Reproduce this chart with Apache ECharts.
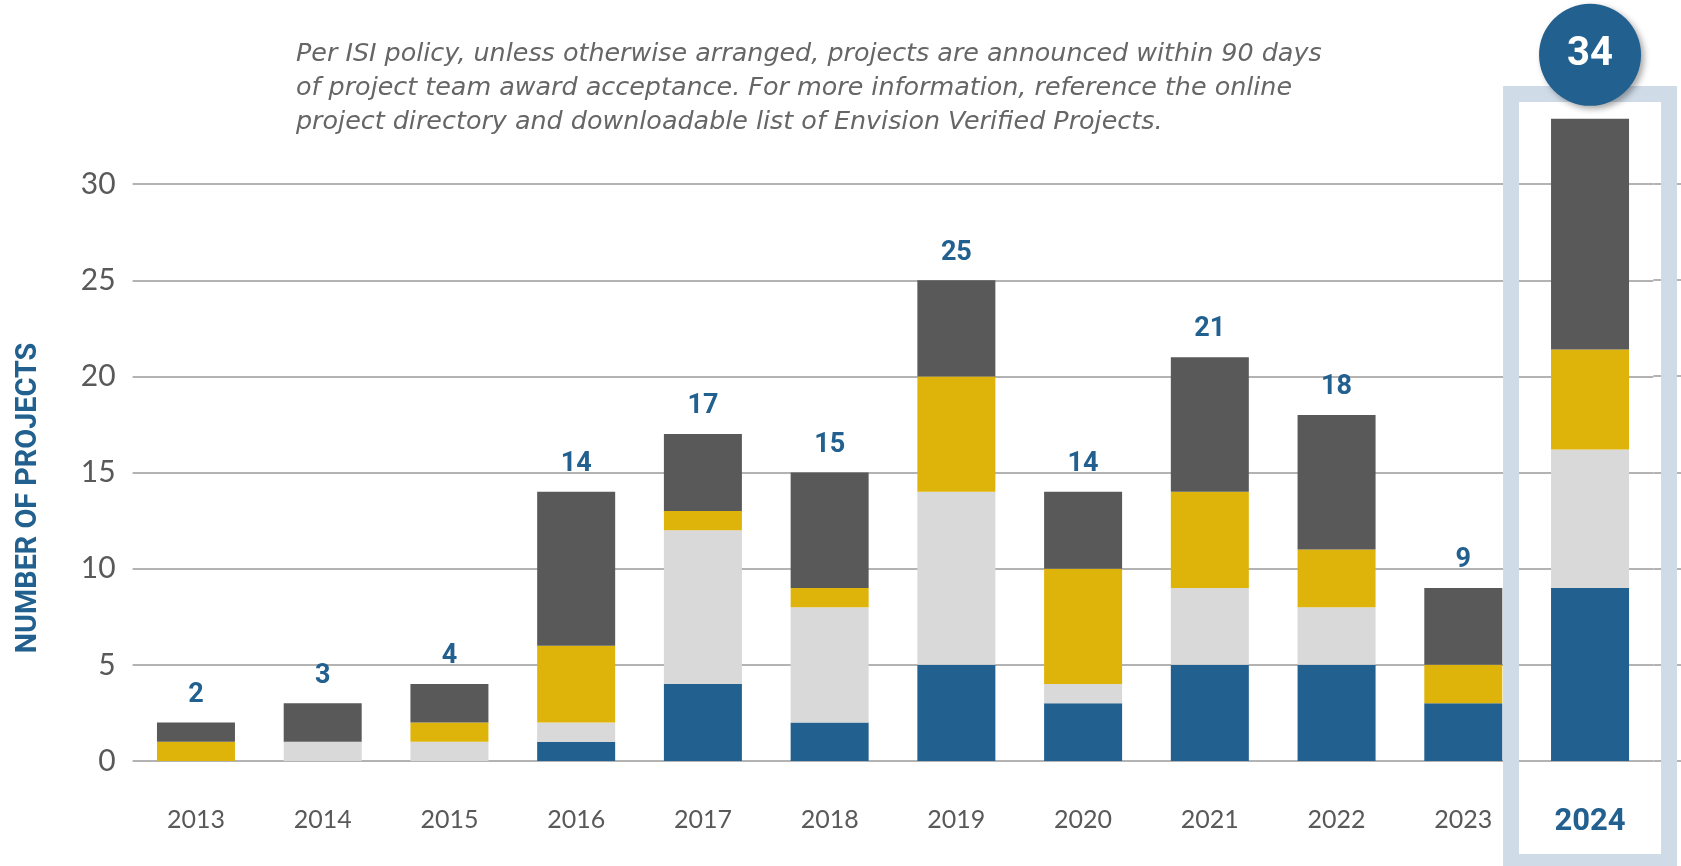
<!DOCTYPE html>
<html lang="en">
<head>
    <meta charset="UTF-8">
    <title>Envision Verified Projects by Year</title>
    <style>
        html, body { margin: 0; padding: 0; background: #fff; }
        #container { width: 1681px; height: 866px; }
    </style>
</head>
<body>
    <div id="container"></div>
    <script src="https://cdn.jsdelivr.net/npm/echarts@6/dist/echarts.min.js"></script>
    <script>
        // values
        var years = ['2013', '2014', '2015', '2016', '2017', '2018', '2019', '2020', '2021', '2022', '2023', '2024'];
        var blueVals = [0, 0, 0, 1, 4, 2, 5, 3, 5, 5, 3, 9];
        var lightVals = [0, 1, 1, 1, 8, 6, 9, 1, 4, 3, 0, 7.2];
        var yellowVals = [1, 0, 1, 4, 1, 1, 6, 6, 5, 3, 2, 5.2];
        var darkVals = [1, 2, 2, 8, 4, 6, 5, 4, 7, 7, 4, 12];
        var totals = [2, 3, 4, 14, 17, 15, 25, 14, 21, 18, 9, 34];
        var yTicks = [0, 5, 10, 15, 20, 25, 30];

        var note = 'Per ISI policy, unless otherwise arranged, projects are announced within 90 days\n' +
            'of project team award acceptance. For more information, reference the online\n' +
            'project directory and downloadable list of Envision Verified Projects.';

        var BLUE = '#22608f';
        var last = years.length - 1;

        var myChart = echarts.init(document.getElementById('container'));

        function seg(name, vals, color) {
            return {
                name: name,
                type: 'bar',
                stack: 'total',
                barWidth: 78,
                data: vals,
                itemStyle: { color: color },
                z: 3
            };
        }

        // top segment carries the total label, the last year gets the round badge
        var darkData = darkVals.map(function (v, i) {
            if (i === last) {
                return {
                    value: v,
                    label: {
                        show: true,
                        position: 'top',
                        distance: 13,
                        formatter: String(totals[i]),
                        color: '#fff',
                        fontFamily: 'Roboto',
                        fontWeight: 'bold',
                        fontSize: 40,
                        backgroundColor: BLUE,
                        width: 102,
                        height: 102,
                        lineHeight: 102,
                        align: 'center',
                        borderRadius: 51,
                        shadowBlur: 6,
                        shadowOffsetX: 3,
                        shadowOffsetY: 3,
                        shadowColor: 'rgba(0,0,0,0.35)'
                    }
                };
            }
            return v;
        });

        var dark = seg('Top', darkData, '#595959');
        dark.label = {
            show: true,
            position: 'top',
            distance: 14,
            color: BLUE,
            fontFamily: 'Roboto',
            fontWeight: 'bold',
            fontSize: 27,
            formatter: function (p) { return totals[p.dataIndex]; }
        };

        var option = {
            animation: false,
            backgroundColor: '#fff',
            grid: {
                left: 132.6,
                right: 27.6,
                top: 88,
                bottom: 105
            },
            xAxis: {
                type: 'category',
                data: years,
                axisLine: { show: false },
                axisTick: { show: false },
                axisLabel: {
                    interval: 0,
                    margin: 46,
                    color: '#595959',
                    fontFamily: 'Lato',
                    fontSize: 25,
                    formatter: function (v, i) {
                        return i === last ? '{hi|' + v + '}' : v;
                    },
                    rich: {
                        hi: {
                            color: BLUE,
                            fontFamily: 'Roboto',
                            fontWeight: 'bold',
                            fontSize: 31
                        }
                    }
                }
            },
            yAxis: {
                type: 'value',
                min: yTicks[0],
                max: 35,
                interval: 5,
                axisLine: { show: false },
                axisTick: { show: false },
                axisLabel: {
                    showMaxLabel: false,
                    margin: 17,
                    color: '#595959',
                    fontFamily: 'Lato',
                    fontSize: 30
                },
                splitLine: {
                    showMaxLine: false,
                    lineStyle: { color: '#b3b3b3', width: 2 }
                }
            },
            series: [
                seg('Blue', blueVals, BLUE),
                seg('Light', lightVals, '#d9d9d9'),
                seg('Yellow', yellowVals, '#dfb40a'),
                dark
            ]
        };

        myChart.setOption(option);

        // frame around the latest year, placed from the axis scale
        var cx = myChart.convertToPixel({ xAxisIndex: 0 }, years[last]);
        var rightEdge = myChart.getWidth() - 27.6;

        var extras = [{
            type: 'text',
            x: 296,
            y: 37,
            z: 5,
            style: {
                text: note,
                fill: '#666666',
                font: 'italic 25.4px "DejaVu Sans"',
                lineHeight: 34
            }
        }, {
            type: 'text',
            x: 28,
            y: 498,
            rotation: Math.PI / 2,
            scaleX: 0.96,
            z: 5,
            style: {
                text: 'NUMBER OF PROJECTS',
                fill: BLUE,
                font: 'bold 30px Roboto',
                align: 'center',
                verticalAlign: 'middle'
            }
        }, {
            type: 'rect',
            z: 1,
            shape: { x: cx - 79, y: 94, width: 158, height: 768 },
            style: { fill: 'none', stroke: '#cfdce8', lineWidth: 16 }
        }];

        // gridlines run on to the page edge
        yTicks.forEach(function (t) {
            var py = Math.round(myChart.convertToPixel({ yAxisIndex: 0 }, t));
            extras.push({
                type: 'line',
                z: 0,
                shape: { x1: rightEdge, y1: py, x2: myChart.getWidth(), y2: py },
                style: { stroke: '#b3b3b3', lineWidth: 2 }
            });
        });

        myChart.setOption({ graphic: extras });
    </script>
</body>
</html>
